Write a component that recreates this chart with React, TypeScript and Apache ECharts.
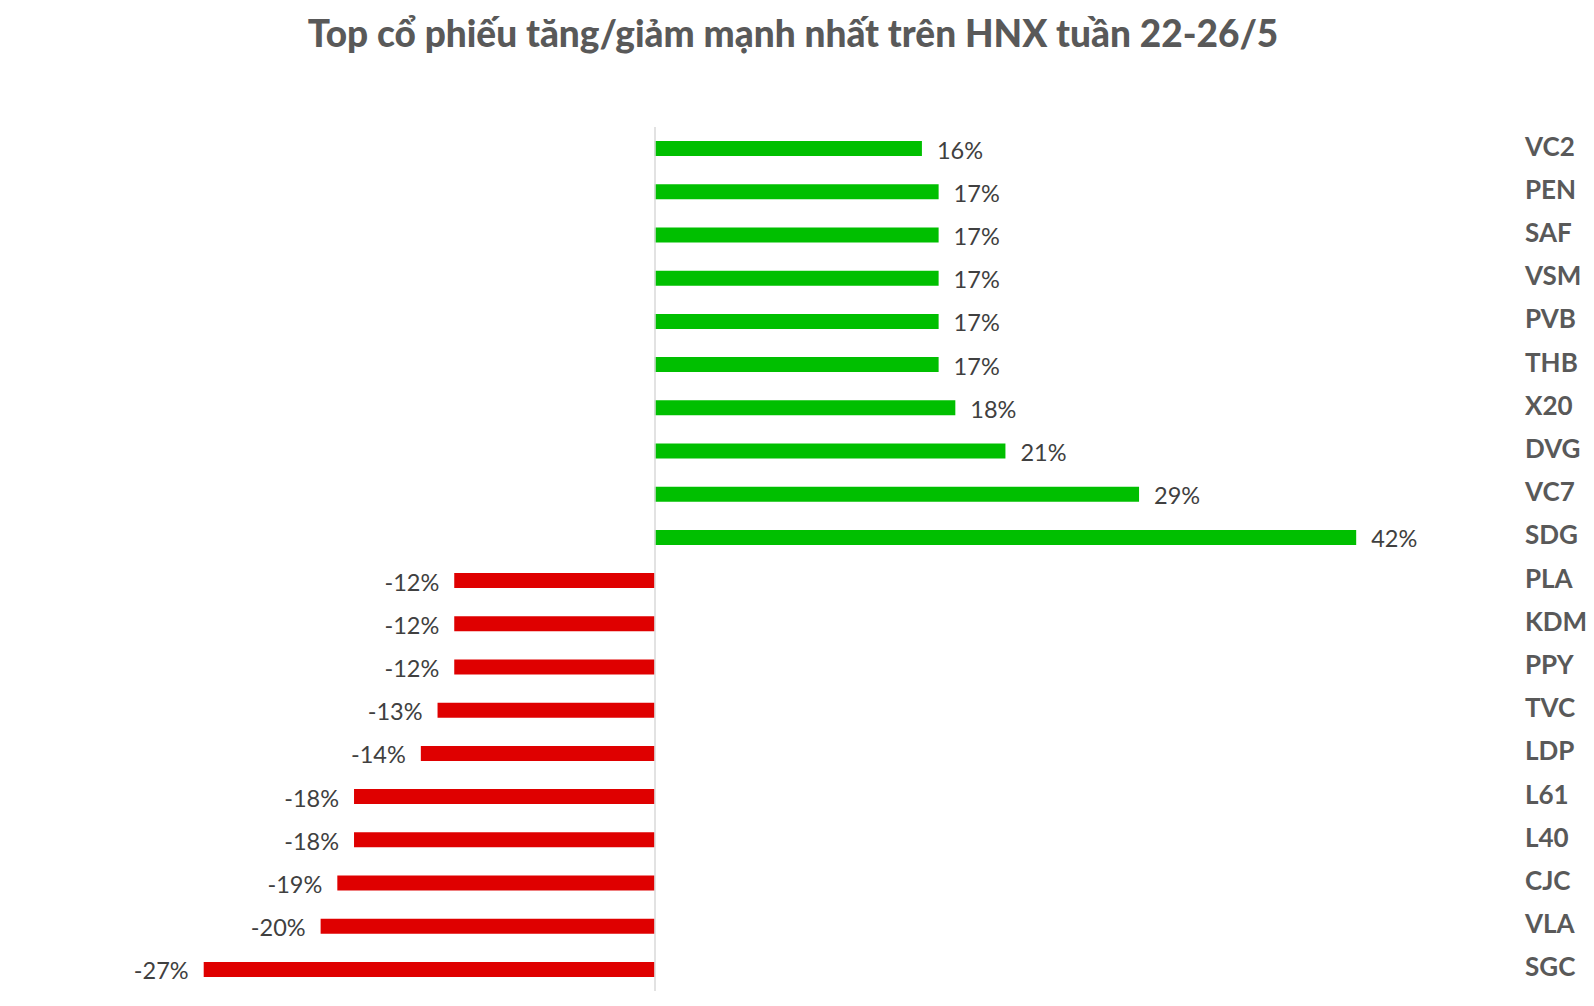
import React, { useEffect, useRef } from "react";
import * as echarts from "echarts";

const titleText = "Top cổ phiếu tăng/giảm mạnh nhất trên HNX tuần 22-26/5";
const categories = [
  "VC2", "PEN", "SAF", "VSM", "PVB", "THB", "X20", "DVG", "VC7", "SDG",
  "PLA", "KDM", "PPY", "TVC", "LDP", "L61", "L40", "CJC", "VLA", "SGC",
];
const values = [
  16, 17, 17, 17, 17, 17, 18, 21, 29, 42,
  -12, -12, -12, -13, -14, -18, -18, -19, -20, -27,
];
const upColor = "#00BF00";
const downColor = "#DF0000";

export default function App() {
  const ref = useRef<HTMLDivElement>(null);
  useEffect(() => {
    document.body.style.margin = "0";
    if (!ref.current) return;
    const chart = echarts.init(ref.current, null, { renderer: "svg" });
    const font = "Lato, 'Open Sans', sans-serif";
    const data = values.map((v) => ({
      value: v,
      itemStyle: { color: v >= 0 ? upColor : downColor },
      label: {
        position: v >= 0 ? "right" : "left",
      },
    }));
    chart.setOption({
      animation: false,
      backgroundColor: "#ffffff",
      title: {
        text: titleText,
        left: 788,
        textAlign: "center",
        top: 9,
        textStyle: {
          fontFamily: font,
          fontWeight: 900,
          fontSize: 37,
          color: "#595959",
        },
      },
      grid: { left: 187, right: 171, top: 127, bottom: 15, containLabel: false },
      xAxis: {
        type: "value",
        min: -28,
        max: 46,
        axisLine: { show: false },
        axisTick: { show: false },
        axisLabel: { show: false },
        splitLine: { show: false },
      },
      yAxis: {
        type: "category",
        data: categories,
        inverse: true,
        position: "right",
        axisLine: { show: false },
        axisTick: { show: false },
        axisLabel: {
          margin: 102,
          align: "left",
          verticalAlign: "bottom",
          lineHeight: 6,
          fontFamily: font,
          fontWeight: "bold",
          fontSize: 26,
          color: "#595959",
        },
      },
      series: [
        {
          type: "bar",
          data,
          barWidth: 15,
          label: {
            show: true,
            distance: 15,
            offset: [0, 1],
            formatter: "{c}%",
            fontFamily: font,
            fontSize: 23.5,
            color: "#404040",
          },
          markLine: {
            silent: true,
            symbol: "none",
            label: { show: false },
            lineStyle: { color: "#D9D9D9", width: 1.5, type: "solid" },
            data: [{ xAxis: 0 }],
          },
        },
      ],
    });
    return () => chart.dispose();
  }, []);
  return <div ref={ref} style={{ width: 1594, height: 1006 }} />;
}
